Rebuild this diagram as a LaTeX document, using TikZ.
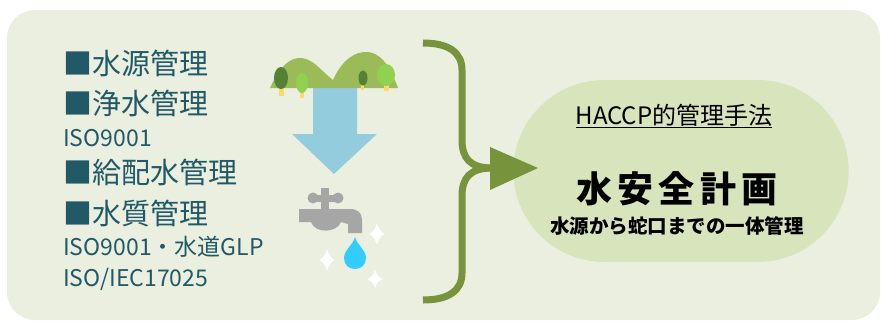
\documentclass[tikz,border=0pt]{standalone}
\usepackage{fontspec}
\setmainfont{Noto Sans CJK JP}
\usepackage{tikz}
\usetikzlibrary{shapes.misc}

\definecolor{bgcol}{HTML}{EBEFDF}
\definecolor{ovalcol}{HTML}{D8E4BC}
\definecolor{bracecol}{HTML}{77933C}
\definecolor{itemcol}{HTML}{215967}
\definecolor{flowcol}{HTML}{93CDDD}
\definecolor{hillcol}{HTML}{9BBB59}
\definecolor{darktree}{HTML}{548235}
\definecolor{lighttree}{HTML}{92D050}
\definecolor{trunkcol}{HTML}{FFD966}
\definecolor{tapcol}{HTML}{A6A6A6}
\definecolor{dropcol}{HTML}{33CCFF}

\tikzset{
  item/.style={anchor=west, inner sep=0pt, text=itemcol, font=\fontsize{29}{29}\selectfont},
  norm/.style={anchor=west, inner sep=0pt, text=itemcol, font=\fontsize{23}{23}\selectfont},
  brace/.style={draw=bracecol, line width=7pt},
  oval/.style={rounded rectangle, fill=ovalcol, minimum width=342pt, minimum height=182pt},
}

\begin{document}
\begin{tikzpicture}[x=1pt, y=-1pt]
\useasboundingbox (0,0) rectangle (881,322);
\fill[white] (0,0) rectangle (881,322);
\fill[bgcol, rounded corners=28pt] (7,10) rectangle (880,320);

\node[item] (src) at (63,63) {■水源管理};
\node[item] (purify) at (63,103) {■浄水管理};
\node[norm] (iso1) at (63,138) {ISO9001};
\node[item] (supply) at (63,172) {■給配水管理};
\node[item] (quality) at (63,213) {■水質管理};
\node[norm] (iso2) at (63,247) {ISO9001・水道GLP};
\node[norm] (iso3) at (63,279) {ISO/IEC17025};

\fill[flowcol] (313,86) -- (357,86) -- (357,134) -- (377,134) -- (334,174)
  -- (292,134) -- (313,134) -- cycle;
\fill[hillcol] (270,88) .. controls (280,66) and (290,57) .. (302,58)
  .. controls (315,60) and (322,72) .. (333,80)
  .. controls (342,60) and (355,51) .. (368,52)
  .. controls (385,54) and (393,75) .. (398,88) -- cycle;
\fill[trunkcol] (279,84) rectangle (284,96);
\fill[trunkcol] (300,88) rectangle (304,98);
\fill[trunkcol] (361,84) rectangle (364,90);
\fill[trunkcol] (384,84) rectangle (389,91);
\fill[darktree] (281,78) ellipse (7pt and 11pt);
\fill[lighttree] (302,83) ellipse (6pt and 10pt);
\fill[darktree] (363,78) ellipse (4.5pt and 7.5pt);
\fill[lighttree] (386,75) ellipse (9pt and 11pt);

\fill[tapcol] (313,198) circle (5.5pt);
\fill[tapcol] (338,198) circle (5.5pt);
\fill[tapcol] (321,188) rectangle (329,211);
\fill[tapcol] (313,195) rectangle (338,202);
\fill[tapcol] (299,209) -- (350,209) .. controls (358,209) and (362,213) .. (362,220)
  -- (362,233) -- (348,233) -- (348,224) -- (341,222)
  .. controls (337,233) and (315,234) .. (311,222) -- (299,222) -- cycle;
\fill[dropcol] (355,237) .. controls (357,245) and (366,250) .. (366,258)
  .. controls (366,265) and (361,269) .. (355,269)
  .. controls (349,269) and (344,265) .. (344,258)
  .. controls (344,250) and (353,245) .. (355,237) -- cycle;
\foreach \x/\y/\w/\h in {377/234/7.5/11, 327/260/7.5/11, 375/279/7.5/9}
  \fill[white] (\x,\y-\h)
    .. controls (\x+0.25*\w,\y-0.45*\h) and (\x+0.45*\w,\y-0.25*\h) .. (\x+\w,\y)
    .. controls (\x+0.45*\w,\y+0.25*\h) and (\x+0.25*\w,\y+0.45*\h) .. (\x,\y+\h)
    .. controls (\x-0.25*\w,\y+0.45*\h) and (\x-0.45*\w,\y+0.25*\h) .. (\x-\w,\y)
    .. controls (\x-0.45*\w,\y-0.25*\h) and (\x-0.25*\w,\y-0.45*\h) .. (\x,\y-\h) -- cycle;

\draw[brace] (423,43) .. controls (448,43) and (462,52) .. (462,70) -- (462,140)
  .. controls (462,158) and (470,168) .. (492,168);
\draw[brace] (423,300) .. controls (448,300) and (462,291) .. (462,273) -- (462,196)
  .. controls (462,178) and (470,168) .. (492,168);

\node[oval] (plan) at (681,171) {};
\fill[bracecol] (490,147) -- (538,168) -- (490,190) -- cycle;
\node[font=\fontsize{24}{24}\selectfont] (haccp) at (674,116) {\underline{HACCP的管理手法}};
\node[font=\bfseries\fontsize{36}{36}\selectfont\addfontfeature{LetterSpace=15}] (wsp) at (677,189) {水安全計画};
\node[font=\bfseries\fontsize{19.5}{19.5}\selectfont] (scope) at (677,226) {水源から蛇口までの一体管理};
\end{tikzpicture}
\end{document}
